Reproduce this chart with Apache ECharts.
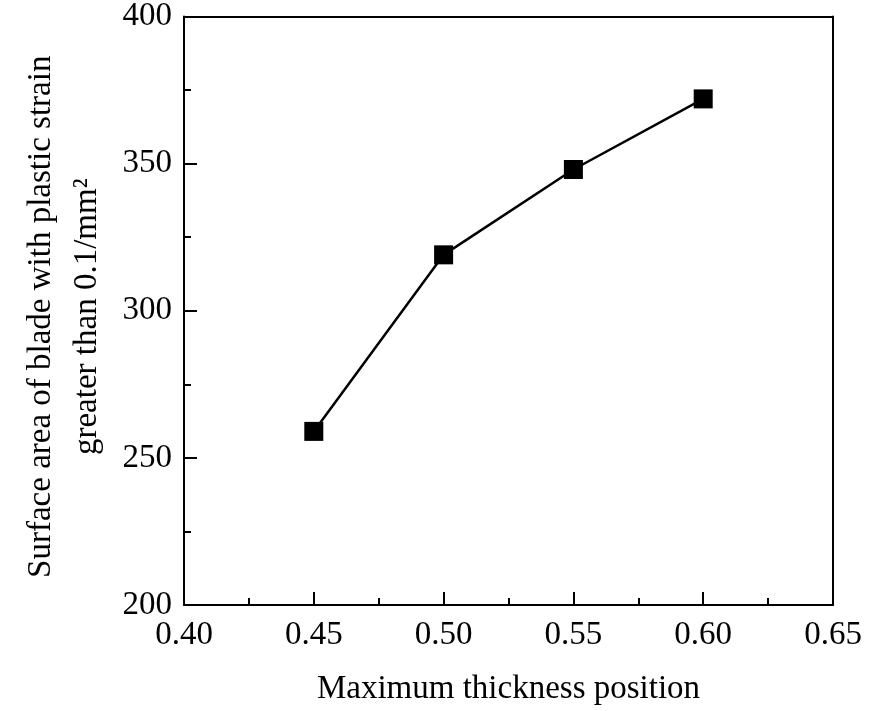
<!DOCTYPE html>
<html><head><meta charset="utf-8">
<script src="https://cdn.jsdelivr.net/npm/echarts@6/dist/echarts.min.js"></script>
<style>html,body{margin:0;padding:0;background:#fff}#c{width:886px;height:711px}</style>
</head><body><div id="c"></div>
<script>
const xValues = [0.45, 0.50, 0.55, 0.60];
const yValues = [259, 319, 348, 372];
const xName = 'Maximum thickness position';
const yName = 'Surface area of blade with plastic strain\ngreater than 0.1/mm²';
const font = 'Liberation Serif';
const chart = echarts.init(document.getElementById('c'));
const axisCommon = {
  axisLine: {show: true, onZero: false, lineStyle: {color: '#000', width: 2}},
  axisTick: {show: true, inside: true, length: 13, lineStyle: {color: '#000', width: 2}},
  minorTick: {show: true, splitNumber: 2, length: 7, lineStyle: {color: '#000', width: 2}},
  splitLine: {show: false},
  axisLabel: {color: '#000', fontFamily: font, fontSize: 33},
  nameTextStyle: {color: '#000', fontFamily: font, fontSize: 33}
};
chart.setOption({
  animation: false,
  grid: {left: 184, top: 16, right: 53, bottom: 105},
  xAxis: [Object.assign({}, axisCommon, {
    type: 'value', min: 0.40, max: 0.65, interval: 0.05,
    name: xName, nameLocation: 'middle', nameGap: 68,
    axisLabel: Object.assign({}, axisCommon.axisLabel, {margin: 14, formatter: v => v.toFixed(2)})
  }), {
    type: 'value', min: 0.40, max: 0.65, position: 'top',
    axisLine: {show: true, lineStyle: {color: '#000', width: 2}},
    axisTick: {show: false}, axisLabel: {show: false}, splitLine: {show: false}
  }],
  yAxis: [Object.assign({}, axisCommon, {
    type: 'value', min: 200, max: 400, interval: 50,
    name: yName, nameLocation: 'middle', nameGap: 74, nameRotate: 90,
    nameTextStyle: Object.assign({}, axisCommon.nameTextStyle, {lineHeight: 46, padding: [0, 12, 0, 0]}),
    axisLabel: Object.assign({}, axisCommon.axisLabel, {margin: 12})
  }), {
    type: 'value', min: 200, max: 400, position: 'right',
    axisLine: {show: true, lineStyle: {color: '#000', width: 2}},
    axisTick: {show: false}, axisLabel: {show: false}, splitLine: {show: false}
  }],
  series: [{
    type: 'line',
    data: xValues.map((x, i) => [x, yValues[i]]),
    symbol: 'rect', symbolSize: 19,
    lineStyle: {color: '#000', width: 2.5},
    itemStyle: {color: '#000'}
  }]
});
</script></body></html>
